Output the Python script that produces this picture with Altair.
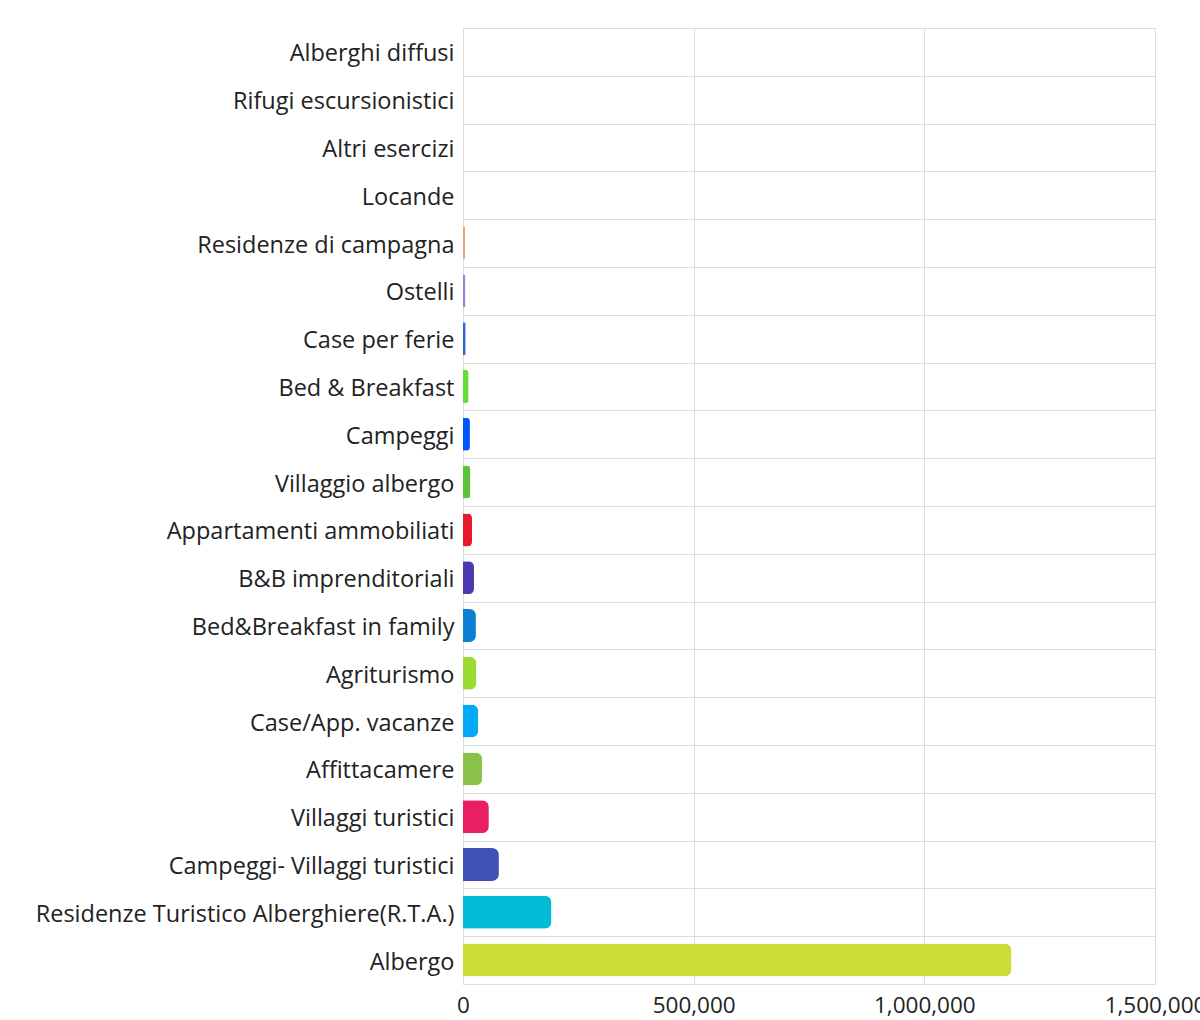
import altair as alt
import pandas as pd

categories = [
    "Alberghi diffusi", "Rifugi escursionistici", "Altri esercizi", "Locande",
    "Residenze di campagna", "Ostelli", "Case per ferie", "Bed & Breakfast",
    "Campeggi", "Villaggio albergo", "Appartamenti ammobiliati",
    "B&B imprenditoriali", "Bed&Breakfast in family", "Agriturismo",
    "Case/App. vacanze", "Affittacamere", "Villaggi turistici",
    "Campeggi- Villaggi turistici", "Residenze Turistico Alberghiere(R.T.A.)",
    "Albergo",
]
values = [
    100, 300, 1000, 1500,
    4500, 5000, 5800, 12000,
    15000, 16000, 19500,
    23800, 28000, 29000,
    33000, 41700, 56000,
    77800, 191700,
    1188700,
]
colors = [
    "#e0f0e0", "#e8e0f0", "#d8d0f0", "#c8ecd0",
    "#f0a080", "#a07ce0", "#3366dd", "#66dd33",
    "#0055ff", "#5cc33a", "#e8192c",
    "#4a3aad", "#0a7fd4", "#99dd33",
    "#03a9f4", "#8bc34a", "#e91e63",
    "#3f51b5", "#00bcd4",
    "#cddc39",
]
x_ticks = [0, 500000, 1000000, 1500000]

df = pd.DataFrame({"cat": categories, "val": values})

chart = alt.Chart(df).mark_bar(
    cornerRadiusEnd=7, height=alt.RelativeBandSize(0.69)
).encode(
    y=alt.Y("cat:N", sort=categories, title=None,
            scale=alt.Scale(paddingInner=0, paddingOuter=0),
            axis=alt.Axis(tickBand="extent", grid=True, gridColor="#dddddd",
                          ticks=False, domain=False, labelFontSize=23.5,
                          labelColor="#222222", labelPadding=9,
                          labelOffset=2,
                          labelFont="Open Sans", labelLimit=600)),
    x=alt.X("val:Q", title=None,
            scale=alt.Scale(domain=[0, 1500000], nice=False),
            axis=alt.Axis(values=x_ticks, format=",d", grid=True,
                          gridColor="#dddddd", ticks=False, domain=False,
                          labelFontSize=22.5, labelColor="#222222",
                          labelPadding=10, labelFont="Open Sans",
                          labelFlush=False, labelOverlap=False)),
    color=alt.Color("cat:N", scale=alt.Scale(domain=categories, range=colors),
                    legend=None),
).properties(
    width=692, height=956,
    autosize=alt.AutoSizeParams(type="none"),
    padding={"left": 463, "top": 28, "right": 45, "bottom": 36},
).configure_view(stroke="#dddddd").configure(background="white")

chart.save("out.html", embed_options={"renderer": "svg", "actions": False})
